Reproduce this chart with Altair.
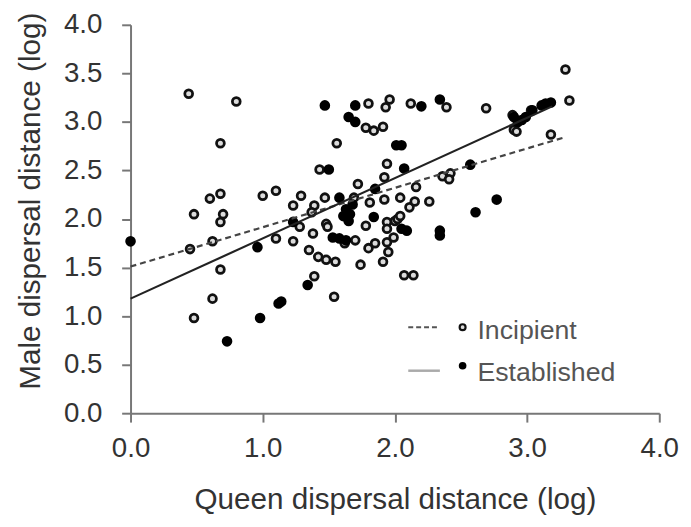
import altair as alt
import pandas as pd

# Incipient colonies (open circles)
inc_x = [0.44, 0.80, 0.68, 0.68, 0.60, 0.48, 0.70, 0.68, 1.00, 1.10, 1.23, 0.45, 0.62, 0.68, 0.62, 0.48,
         1.10, 1.23, 1.28,
         1.80, 1.96, 1.93, 2.12, 2.39, 2.69, 1.78, 1.84, 1.91, 1.56, 1.94, 1.43, 1.92, 1.72, 2.16, 2.36,
         2.42, 2.41, 2.26, 1.29, 1.39, 1.47, 1.69, 1.81, 1.92, 2.04, 2.11, 2.15, 1.48, 1.78, 2.00, 1.94,
         2.02, 1.37, 1.38, 1.49, 1.70, 1.35, 1.42, 1.48, 1.55, 1.62, 1.74, 1.80, 1.85, 1.94, 1.95, 1.91,
         2.07, 2.14, 1.39, 1.54, 2.04, 1.99, 1.94,
         3.29, 3.32, 3.03, 2.89, 2.90, 2.92, 3.18]
inc_y = [3.29, 3.21, 2.78, 2.26, 2.21, 2.05, 2.05, 1.97, 2.24, 2.29, 2.14, 1.69, 1.77, 1.48, 1.18, 0.98,
         1.80, 1.77, 1.92,
         3.19, 3.23, 3.15, 3.19, 3.15, 3.14, 2.94, 2.91, 2.95, 2.78, 2.57, 2.51, 2.43, 2.36, 2.33, 2.44,
         2.47, 2.41, 2.18, 2.24, 2.14, 2.22, 2.22, 2.17, 2.20, 2.22, 2.12, 2.18, 1.95, 1.93, 1.98, 1.97,
         2.00, 2.07, 1.85, 1.92, 1.78, 1.68, 1.61, 1.58, 1.56, 1.75, 1.53, 1.70, 1.75, 1.76, 1.66, 1.56,
         1.42, 1.42, 1.41, 1.20, 2.03, 1.81, 1.90,
         3.54, 3.22, 3.12, 3.07, 2.92, 2.90, 2.87]

# Established colonies (filled circles)
est_x = [0.00, 0.73, 0.98, 1.12, 1.14, 0.96, 1.23, 1.34, 1.47, 1.70, 1.65, 1.70, 2.20, 2.34, 2.01, 2.05,
         2.07, 1.50, 1.85, 2.57, 2.61, 2.77, 1.58, 1.63, 1.66, 1.65, 1.61, 1.68, 1.84, 1.53, 1.58, 1.63,
         2.05, 2.09, 2.34, 2.34, 3.18, 3.14, 3.11, 3.04, 2.99, 2.96, 2.93, 2.90]
est_y = [1.77, 0.74, 0.98, 1.13, 1.15, 1.71, 1.97, 1.32, 3.17, 3.17, 3.05, 3.00, 3.16, 3.23, 2.76, 2.76,
         2.52, 2.51, 2.31, 2.56, 2.07, 2.20, 2.22, 2.10, 2.05, 1.98, 2.03, 2.15, 2.02, 1.81, 1.80, 1.78,
         1.90, 1.88, 1.88, 1.83, 3.20, 3.19, 3.17, 3.12, 3.05, 3.02, 3.00, 3.05]

# Fitted lines (end points)
inc_line_x = [0.0, 3.28]
inc_line_y = [1.51, 2.84]
est_line_x = [0.0, 3.19]
est_line_y = [1.18, 3.16]

x_ticks = [0, 1, 2, 3, 4]
y_ticks = [0, 0.5, 1, 1.5, 2, 2.5, 3, 3.5, 4]
series_names = ["Incipient", "Established"]

FONT = "Liberation Sans"

inc_df = pd.DataFrame({"x": inc_x, "y": inc_y})
est_df = pd.DataFrame({"x": est_x, "y": est_y})
inc_line = pd.DataFrame({"x": inc_line_x, "y": inc_line_y})
est_line = pd.DataFrame({"x": est_line_x, "y": est_line_y})

xscale = alt.Scale(domain=[0, 4], nice=False)
yscale = alt.Scale(domain=[0, 4], nice=False)

xaxis = alt.Axis(values=x_ticks, format=".1f", title="Queen dispersal distance (log)",
                 labelFontSize=28, labelColor="#333", labelFont=FONT, labelPadding=13,
                 labelFlush=False, labelOverlap=False,
                 tickSize=9, tickWidth=2, tickColor="#777", domainColor="#777", domainWidth=2,
                 grid=False, titleFont=FONT, titleFontSize=30, titleFontWeight="normal",
                 titleColor="#333", titleY=96, titleBaseline="alphabetic")
yaxis = alt.Axis(values=y_ticks, format=".1f", title="Male dispersal distance (log)",
                 labelFontSize=28, labelColor="#333", labelFont=FONT, labelPadding=20,
                 labelFlush=False, labelOverlap=False,
                 tickSize=9, tickWidth=2, tickColor="#777", domainColor="#777", domainWidth=2,
                 grid=False, titleFont=FONT, titleFontSize=30, titleFontWeight="normal",
                 titleColor="#333", titleX=-92, titleY=178, titleBaseline="alphabetic")

inc_pts = alt.Chart(inc_df).mark_point(shape="circle", filled=False, size=62, strokeWidth=2.8,
                                       stroke="#111", fill="#dcdcdc", fillOpacity=1, opacity=1).encode(
    x=alt.X("x:Q", scale=xscale, axis=xaxis),
    y=alt.Y("y:Q", scale=yscale, axis=yaxis),
)
est_pts = alt.Chart(est_df).mark_circle(size=115, color="#000", opacity=1).encode(
    x=alt.X("x:Q", scale=xscale),
    y=alt.Y("y:Q", scale=yscale),
)
inc_ln = alt.Chart(inc_line).mark_line(color="#444", strokeWidth=2.2, strokeDash=[6, 4]).encode(
    x="x:Q", y="y:Q")
est_ln = alt.Chart(est_line).mark_line(color="#222", strokeWidth=2.2).encode(
    x="x:Q", y="y:Q")

# Legend (drawn inside the plot)
one = pd.DataFrame({"label": [series_names[0]]})
two = pd.DataFrame({"label": [series_names[1]]})
leg_dash = alt.Chart(one).mark_rule(color="#555", strokeWidth=2, strokeDash=[5, 3]).encode(
    x=alt.value(281), x2=alt.value(310), y=alt.value(306))
leg_solid = alt.Chart(two).mark_rule(color="#aaa", strokeWidth=2.5).encode(
    x=alt.value(281), x2=alt.value(313), y=alt.value(350))
leg_m1 = alt.Chart(one).mark_point(shape="circle", filled=False, size=36, strokeWidth=2.2,
                                   stroke="#111", fill="#dcdcdc", fillOpacity=1, opacity=1).encode(
    x=alt.value(336), y=alt.value(306))
leg_m2 = alt.Chart(two).mark_circle(size=60, color="#000", opacity=1).encode(
    x=alt.value(336), y=alt.value(345))
leg_t1 = alt.Chart(one).mark_text(align="left", baseline="alphabetic", font=FONT, fontSize=27,
                                  color="#555").encode(
    x=alt.value(351), y=alt.value(318), text="label:N")
leg_t2 = alt.Chart(two).mark_text(align="left", baseline="alphabetic", font=FONT, fontSize=27,
                                  color="#555").encode(
    x=alt.value(351), y=alt.value(360), text="label:N")

chart = alt.layer(inc_pts, est_pts, inc_ln, est_ln, leg_dash, leg_solid, leg_m1, leg_m2,
                  leg_t1, leg_t2).properties(
    width=535, height=393,
    autosize=alt.AutoSizeParams(type="none"),
    padding={"left": 124, "top": 14, "right": 24, "bottom": 100},
    background="white",
).configure_view(stroke=None)

chart.save("out.html", embed_options={"renderer": "svg", "actions": False})
